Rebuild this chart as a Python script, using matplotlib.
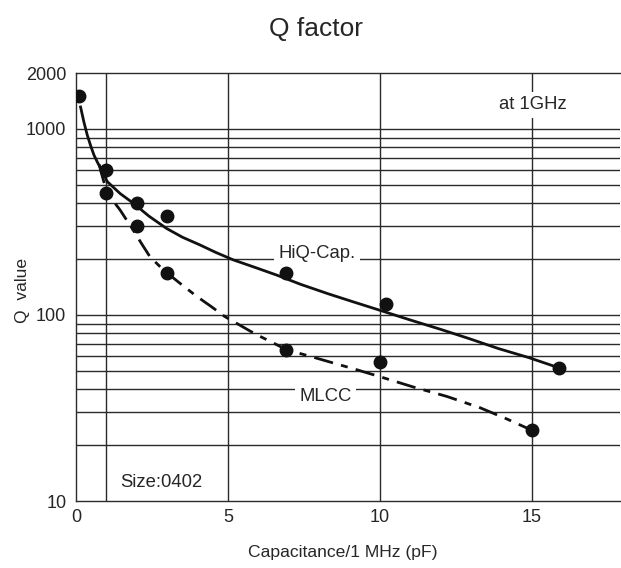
import matplotlib
matplotlib.use("Agg")
import matplotlib.pyplot as plt
from matplotlib.ticker import FixedLocator, NullLocator

plt.rcParams['font.family'] = ['Liberation Sans', 'DejaVu Sans']

# Measured points
hiq_x = [0.1, 1.0, 2.0, 3.0, 6.9, 10.2, 15.9]
hiq_q = [1500, 600, 400, 340, 168, 114, 52]
mlcc_x = [1.0, 2.0, 3.0, 6.9, 10.0, 15.0]
mlcc_q = [450, 300, 168, 65, 56, 24]

# Fitted curves
hiq_curve_x = [0.15, 0.26, 0.37, 0.48, 0.59, 0.7, 0.81, 1.03, 1.45, 1.885, 2.4, 2.98, 3.5, 4.08,
               4.6, 5.17, 5.9, 6.6, 7.4, 8.3, 9.1, 10.0, 11.0, 11.97, 12.9, 13.9, 14.9, 15.8]
hiq_curve_q = [1313, 1090, 928, 815, 725, 665, 615, 521, 450, 399, 340, 292, 262, 238,
               217, 198, 180, 164, 146, 130, 118, 106, 94, 84, 75, 66, 59, 52.6]
mlcc_curve_x = [0.76, 0.88, 1.0, 1.2, 1.45, 1.66, 1.885, 2.15, 2.43, 2.87, 3.4, 3.97, 4.45, 4.9,
                5.4, 5.9, 6.4, 6.93, 7.7, 8.5, 9.2, 10.0, 11.1, 12.2, 13.3, 14.2, 15.0]
mlcc_curve_q = [646, 545, 470, 415, 367, 325, 286, 243, 206, 175, 149, 126, 111, 98,
                88, 79, 72, 65, 60, 55, 51, 46.6, 41, 36.5, 31.7, 27.5, 24]

y_ticks = [10, 100, 1000, 2000]
y_grid = [20, 30, 40, 50, 60, 70, 80, 90, 100, 200, 300, 400, 500, 600, 700, 800, 900, 1000]
x_ticks = [0, 5, 10, 15]
x_grid = [1, 5, 10, 15]

W, H = 621, 568
fig = plt.figure(figsize=(W / 100, H / 100), dpi=100)
ax = fig.add_axes([76 / W, 67 / H, 544 / W, 428 / H])

ax.set_yscale('log')
ax.set_xlim(0, 17.9)
ax.set_ylim(10, 2000)

gc = '#2a2a2a'
tc = '#262626'
for g in y_grid:
    ax.axhline(g, color=gc, lw=1.0, zorder=1)
for g in x_grid:
    ax.axvline(g, color=gc, lw=1.0, zorder=1)

ax.plot(hiq_curve_x, hiq_curve_q, color='#111111', lw=2.0, zorder=3)
ax.plot(mlcc_curve_x, mlcc_curve_q, color='#111111', lw=2.0,
        linestyle=(0, (7, 3, 2.5, 3)), zorder=3)
ax.plot(hiq_x, hiq_q, 'o', color='#111111', ms=9, zorder=4)
ax.plot(mlcc_x, mlcc_q, 'o', color='#111111', ms=9, zorder=4)

ax.yaxis.set_major_locator(FixedLocator(y_ticks))
ax.yaxis.set_minor_locator(NullLocator())
ax.set_yticklabels([str(v) for v in y_ticks])
ax.set_xticks(x_ticks)
ax.set_xticklabels([str(v) for v in x_ticks])
ax.tick_params(axis='both', length=0, labelsize=13, colors=tc)
ax.tick_params(axis='x', pad=6)
ax.tick_params(axis='y', pad=7)

for s in ['left', 'bottom', 'top']:
    ax.spines[s].set_color(gc)
    ax.spines[s].set_linewidth(1.0)
ax.spines['right'].set_visible(False)

bb = dict(facecolor='white', edgecolor='none', pad=3)
fs = 13.3
ax.text(7.94, 215, 'HiQ-Cap.', fontsize=fs, ha='center', va='center', color=tc, bbox=bb, zorder=2)
ax.text(8.22, 36.4, 'MLCC', fontsize=fs, ha='center', va='center', color=tc, bbox=bb, zorder=2)
ax.text(15.03, 1346, 'at 1GHz', fontsize=fs, ha='center', va='center', color=tc, bbox=bb, zorder=2)
ax.text(1.45, 12.5, 'Size:0402', fontsize=fs, ha='left', va='center', color=tc, zorder=2)

fig.text(343 / W, 1 - 553 / H, 'Capacitance/1 MHz (pF)', fontsize=12.6, ha='center', va='center', color=tc)
fig.text(22 / W, 1 - 290 / H, 'Q  value', fontsize=12.6, ha='center', va='center', rotation=90, color=tc)
fig.text(316 / W, 1 - 29 / H, 'Q factor', fontsize=19, ha='center', va='center', color=tc)

fig.savefig('out.png', dpi=100)
